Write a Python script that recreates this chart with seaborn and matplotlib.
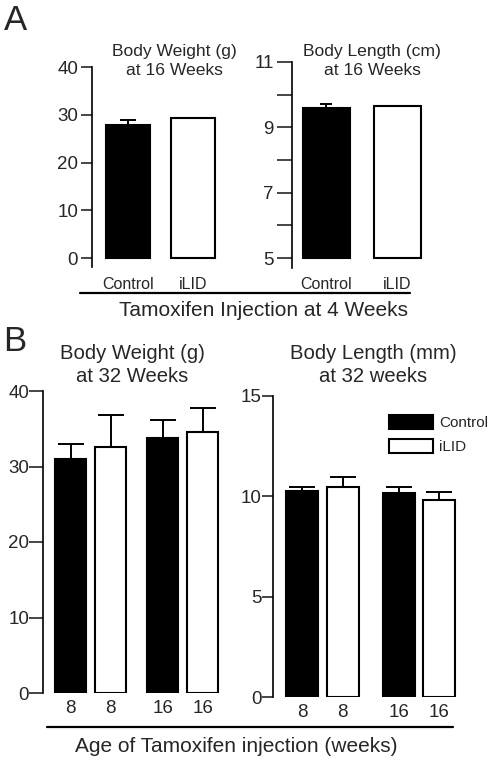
import numpy as np
import pandas as pd
import seaborn as sns
import matplotlib.pyplot as plt
from matplotlib.lines import Line2D
from matplotlib.container import BarContainer

sns.set_style('white')
plt.rcParams['font.family'] = ['Liberation Sans', 'DejaVu Sans']

# panel A: 4 weeks injection, measured at 16 weeks
a_groups = ['Control', 'iLID']
a_weight = [27.8, 29.4]
a_weight_err = [1.2, 0.0]
a_length = [9.59, 9.65]
a_length_err = [0.12, 0.0]
a_length_base = 5  # axis of the length plot starts at 5 cm

# panel B: measured at 32 weeks
b_ages = ['8', '16']
b_groups = ['Control', 'iLID']
b_weight = {'Control': [31.0, 33.8], 'iLID': [32.6, 34.6]}
b_weight_err = {'Control': [2.0, 2.4], 'iLID': [4.2, 3.1]}
b_length = {'Control': [10.26, 10.16], 'iLID': [10.46, 9.82]}
b_length_err = {'Control': [0.2, 0.3], 'iLID': [0.5, 0.4]}

pal = {'Control': 'black', 'iLID': 'white'}
W, H = 498, 763
fig = plt.figure(figsize=(W / 100, H / 100), dpi=100)


def px_axes(x0, x1, ytop, ybot):
    return fig.add_axes([x0 / W, (H - ybot) / H, (x1 - x0) / W, (ybot - ytop) / H])


def bars(ax):
    return [c for c in ax.containers if isinstance(c, BarContainer)]


def add_err(ax, errs, cap):
    # one-sided (upper) error bars on top of each bar
    for cont, err in zip(bars(ax), errs):
        xs = [p.get_x() + p.get_width() / 2 for p in cont.patches]
        hs = [p.get_y() + p.get_height() for p in cont.patches]
        e = np.array(err)
        ax.errorbar(xs, hs, yerr=[np.zeros_like(e), e], fmt='none',
                    ecolor='black', elinewidth=1.4, capsize=cap, capthick=1.4)


def style(ax):
    sns.despine(ax=ax, bottom=True)
    ax.spines['left'].set_linewidth(1.2)
    ax.spines['left'].set_color('black')
    ax.set_xlabel('')
    ax.set_ylabel('')


# ---- A left
df = pd.DataFrame({'g': a_groups, 'v': a_weight})
ax = px_axes(92, 229, 67, 258)
sns.barplot(data=df, x='g', y='v', hue='g', palette=pal, edgecolor='black',
            linewidth=1.5, width=0.68, errorbar=None, legend=False, ax=ax)
add_err(ax, [[e] for e in a_weight_err], 6)
ax.set_xlim(-0.56, 1.56)
ax.set_ylim(0, 40)
ax.set_yticks([0, 10, 20, 30, 40])
style(ax)
ax.spines['left'].set_bounds(-1.9, 40)
ax.tick_params(axis='y', direction='out', length=8, width=1.2, left=True, labelsize=13.5, pad=2)
ax.tick_params(axis='x', length=0, labelsize=11.5, pad=14)
for p in ax.patches:
    p.set_clip_on(False)

# ---- A right
df = pd.DataFrame({'g': a_groups, 'v': a_length})
ax = px_axes(292, 433, 62, 258)
sns.barplot(data=df, x='g', y='v', hue='g', palette=pal, edgecolor='black',
            linewidth=1.5, width=0.66, errorbar=None, legend=False, ax=ax)
# bars rise from the 5 cm baseline
for p in ax.patches:
    top = p.get_height()
    p.set_y(a_length_base)
    p.set_height(top - a_length_base)
    p.set_clip_on(False)
add_err(ax, [[e] for e in a_length_err], 4.5)
ax.set_xlim(-0.48, 1.5)
ax.set_ylim(5, 11)
ax.set_yticks([5, 6, 7, 8, 9, 10, 11])
ax.set_yticklabels(['5', '', '7', '', '9', '', '11'])
style(ax)
ax.spines['left'].set_bounds(4.7, 11)
ax.tick_params(axis='y', direction='out', length=11, width=1.2, left=True, labelsize=13.5, pad=2)
ax.tick_params(axis='x', length=0, labelsize=11.5, pad=14)

fig.text(174 / W, 1 - 61 / H, 'Body Weight (g)\nat 16 Weeks', ha='center', va='center',
         fontsize=12.6, linespacing=1.35)
fig.text(372 / W, 1 - 61 / H, 'Body Length (cm)\nat 16 Weeks', ha='center', va='center',
         fontsize=12.6, linespacing=1.35)
fig.add_artist(Line2D([80 / W, 410 / W], [1 - 293 / H] * 2, color='black', lw=1.6))
fig.text(263 / W, 1 - 310 / H, 'Tamoxifen Injection at 4 Weeks', ha='center', va='center',
         fontsize=15)
fig.text(4 / W, 1 - 21 / H, 'A', ha='left', va='center', fontsize=25)

# ---- B
rows = []
for g in b_groups:
    for i, a in enumerate(b_ages):
        rows.append({'age': a, 'group': g, 'w': b_weight[g][i], 'l': b_length[g][i]})
dfb = pd.DataFrame(rows)

ax = px_axes(43, 238, 391, 693)
sns.barplot(data=dfb, x='age', y='w', hue='group', order=b_ages, hue_order=b_groups,
            palette=pal, edgecolor='black', linewidth=1.5, width=0.87, gap=0.22,
            errorbar=None, legend=False, ax=ax)
centers = sorted(p.get_x() + p.get_width() / 2 for c in bars(ax) for p in c.patches)
add_err(ax, [b_weight_err[g] for g in b_groups], 9.5)
ax.set_xlim(-0.52, 1.6)
ax.set_ylim(0, 40)
ax.set_yticks([0, 10, 20, 30, 40])
style(ax)
ax.tick_params(axis='y', direction='out', length=10, width=1.2, left=True, labelsize=13.5, pad=0)
ax.set_xticks(centers)
ax.set_xticklabels([b_ages[0], b_ages[0], b_ages[1], b_ages[1]])
ax.tick_params(axis='x', length=0, labelsize=13.5, pad=5)

ax = px_axes(273, 477, 396, 697)
sns.barplot(data=dfb, x='age', y='l', hue='group', order=b_ages, hue_order=b_groups,
            palette=pal, edgecolor='black', linewidth=1.5, width=0.84, gap=0.21,
            errorbar=None, ax=ax)
centers = sorted(p.get_x() + p.get_width() / 2 for c in bars(ax) for p in c.patches)
add_err(ax, [b_length_err[g] for g in b_groups], 9.5)
ax.set_xlim(-0.51, 1.6)
ax.set_ylim(0, 15)
ax.set_yticks([0, 5, 10, 15])
style(ax)
ax.tick_params(axis='y', direction='out', length=8, width=1.2, left=True, labelsize=13.5, pad=0)
ax.set_xticks(centers)
ax.set_xticklabels([b_ages[0], b_ages[0], b_ages[1], b_ages[1]])
ax.tick_params(axis='x', length=0, labelsize=13.5, pad=5)
ax.legend(loc='upper left', bbox_to_anchor=(389 / W, 1 - 415 / H),
          bbox_transform=fig.transFigure, frameon=False, fontsize=11,
          handlelength=2.9, handleheight=1.05, handletextpad=0.4,
          labelspacing=0.55, borderpad=0, borderaxespad=0)

fig.text(132 / W, 1 - 365 / H, 'Body Weight (g)\nat 32 Weeks', ha='center', va='center',
         fontsize=14.6, linespacing=1.25)
fig.text(373 / W, 1 - 365 / H, 'Body Length (mm)\nat 32 weeks', ha='center', va='center',
         fontsize=14.6, linespacing=1.25)
fig.add_artist(Line2D([47 / W, 453 / W], [1 - 727 / H] * 2, color='black', lw=1.6))
fig.text(236 / W, 1 - 747 / H, 'Age of Tamoxifen injection (weeks)', ha='center', va='center',
         fontsize=15)
fig.text(3 / W, 1 - 342 / H, 'B', ha='left', va='center', fontsize=25)

fig.savefig('out.png', dpi=100)
